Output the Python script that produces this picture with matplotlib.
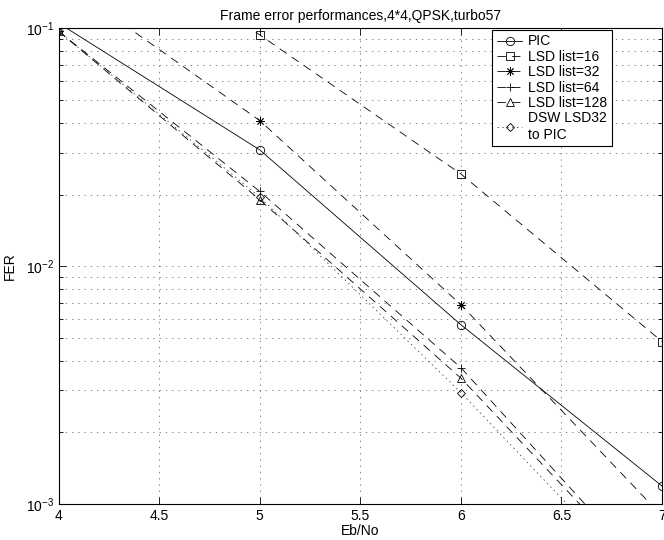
import numpy as np
import matplotlib
matplotlib.use('Agg')
import matplotlib.pyplot as plt

plt.rcParams['font.family'] = ['Liberation Sans', 'DejaVu Sans']
plt.rcParams['font.size'] = 10
plt.rcParams['lines.scale_dashes'] = False

# values (Eb/No vs FER)
ebno = [4, 5, 6, 7]
fer_pic = [0.105, 0.0308, 0.00567, 0.00119]
fer_lsd16 = [0.36, 0.0937, 0.0244, 0.00482]
fer_lsd32 = [0.162, 0.0409, 0.00688, 0.00089]
fer_lsd64 = [0.097, 0.0206, 0.00374, 0.00044]
fer_lsd128 = [0.097, 0.019, 0.00338, 0.00043]
fer_dsw = [0.097, 0.0195, 0.00294, 0.00038]

fig = plt.figure(figsize=(6.64, 5.4), dpi=100)
ax = fig.add_axes([0.0884, 0.0667, 0.9086, 0.881])

dash = (6, 4.5)
common = dict(color='k', lw=0.6, ms=6, mfc='none', mew=0.6)
ax.plot(ebno, fer_pic, marker='o', ls='-', label='PIC', **common)
ax.plot(ebno, fer_lsd16, marker='s', dashes=dash, label='LSD list=16', **common)
ax.plot(ebno, fer_lsd32, marker=(8, 2, 0), dashes=dash, label='LSD list=32', **common)
ax.plot(ebno, fer_lsd64, marker='+', dashes=dash, label='LSD list=64', **common)
ax.plot(ebno, fer_lsd128, marker='^', dashes=dash, label='LSD list=128', **common)
ax.plot(ebno, fer_dsw, marker='D', dashes=(1, 2.5), label='DSW LSD32\nto PIC',
        color='0.25', mec='k', lw=0.6, ms=4.5, mfc='none', mew=0.6)

ax.set_yscale('log')
ax.set_xlim(4, 7)
ax.set_ylim(1e-3, 1e-1)
ax.set_xticks([4, 4.5, 5, 5.5, 6, 6.5, 7])
ax.set_xticklabels(['4', '4.5', '5', '5.5', '6', '6.5', '7'])

ax.tick_params(which='both', direction='in', top=True, right=True, width=0.6)
ax.tick_params(which='major', length=5)
ax.tick_params(which='minor', length=3)
ax.grid(True, which='major', axis='x', color='0.35', lw=0.5, dashes=(1, 3.5))
ax.grid(True, which='both', axis='y', color='0.35', lw=0.5, dashes=(1, 3.5))
for s in ax.spines.values():
    s.set_linewidth(0.8)

ax.set_title('Frame error performances,4*4,QPSK,turbo57', fontsize=10, pad=6)
ax.set_xlabel('Eb/No', labelpad=1)
ax.set_ylabel('FER', labelpad=6)

leg = ax.legend(loc='upper right', bbox_to_anchor=(0.919, 1.0), numpoints=1,
                handlelength=1.8, handletextpad=0.4, labelspacing=0.1,
                borderpad=0.35, borderaxespad=0.1, fancybox=False,
                framealpha=1, edgecolor='k')
leg.get_frame().set_linewidth(0.8)

fig.savefig('out.png', dpi=100)
